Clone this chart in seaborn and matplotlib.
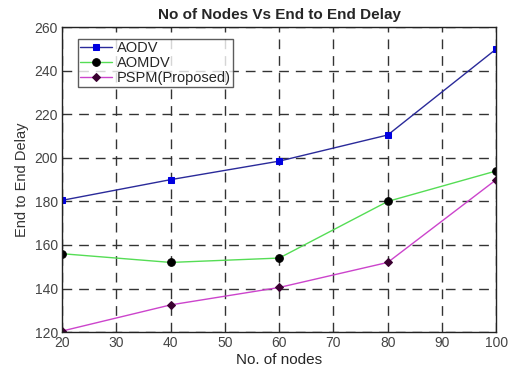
import numpy as np
import pandas as pd
import seaborn as sns
import matplotlib.pyplot as plt

# ---------- data ----------
nodes = [20, 40, 60, 80, 100]
aodv = [180.5, 190, 198.5, 210.5, 250]
aomdv = [156, 152, 154, 180, 194]
pspm = [120.5, 132.5, 140.5, 152, 190]
labels = ['AODV', 'AOMDV', 'PSPM(Proposed)']

sns.set_style('white')
plt.rcParams['font.family'] = ['Liberation Sans', 'DejaVu Sans']

fig = plt.figure(figsize=(5.09, 3.67), dpi=100)
ax = fig.add_axes([0.122, 0.095, 0.853, 0.831])

styles = [
    dict(color='#2a2a9a', marker='s', mfc='#0000e0', mec='#0000e0', ms=4.5),
    dict(color='#55dd55', marker='o', mfc='black', mec='black', ms=5.5),
    dict(color='#cc44cc', marker='D', mfc='#3a0030', mec='#3a0030', ms=4.5),
]
for vals, lab, st in zip([aodv, aomdv, pspm], labels, styles):
    sns.lineplot(x=nodes, y=vals, ax=ax, label=lab, lw=1, **st)

ax.set_xlim(20, 100)
ax.set_ylim(120, 260)
ax.set_xticks(np.arange(20, 101, 10))
ax.set_yticks(np.arange(120, 261, 20))
ax.grid(True, color='#333333', ls=(0, (7, 5)), lw=1)
for s in ax.spines.values():
    s.set_color('#222222')
    s.set_linewidth(1)
ax.tick_params(labelsize=10, colors='#444444', length=0, pad=3)
ax.set_xlabel('No. of nodes', fontsize=11, labelpad=2)
ax.set_ylabel('End to End Delay', fontsize=10.5, color='#333333')
ax.set_title('No of Nodes Vs End to End Delay', fontsize=11, fontweight='bold', pad=6)

leg = ax.legend(loc='upper left', bbox_to_anchor=(0.02, 0.985), fontsize=10.5,
                frameon=True, fancybox=False, edgecolor='#333333',
                borderpad=0.15, labelspacing=0.05, handlelength=2.2, handletextpad=0.3)
leg.get_frame().set_linewidth(1)

fig.savefig('out.png', dpi=100)
